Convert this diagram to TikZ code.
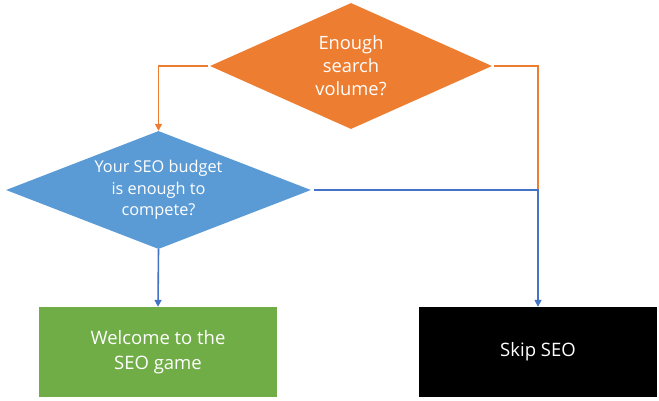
\documentclass[tikz,border=0pt]{standalone}
\usepackage{fontspec}
\setmainfont{Open Sans}
\usetikzlibrary{shapes.geometric,arrows.meta,positioning}

\definecolor{seoorange}{HTML}{ED7D31}
\definecolor{seoblue}{HTML}{5B9BD5}
\definecolor{seoline}{HTML}{4472C4}
\definecolor{seogreen}{HTML}{70AD47}

\begin{document}
\begin{tikzpicture}[
		x=1pt, y=-1pt,
		decision/.style={diamond, fill=#1, inner sep=0pt, text=white, align=center},
		result/.style={rectangle, fill=#1, minimum width=238pt, minimum height=90pt, inner sep=0pt, text=white, align=center, font=\fontsize{18.5}{25}\selectfont},
		orangearrow/.style={-{Triangle[length=7pt,width=7pt]}, seoorange, line width=1.5pt},
		bluearrow/.style={-{Triangle[length=7pt,width=7pt]}, seoline, line width=1.6pt}
		]
		\useasboundingbox (0,0) rectangle (659,400);

		% Decisions
		\node[decision=seoorange, aspect=2.24, minimum width=282pt, minimum height=126pt, font=\fontsize{18.3}{23}\selectfont] (volume) at (351,66) {Enough\\search\\volume?};
		\node[decision=seoblue, aspect=2.58, minimum width=305pt, minimum height=118pt, font=\fontsize{16.3}{21.5}\selectfont] (budget) at (158.5,190) {Your SEO budget\\is enough to\\compete?};

		% Outcomes
		\node[result=seogreen] (welcome) at (158,352) {Welcome to the\\SEO game};
		\node[result=black] (skip) at (538,352) {Skip SEO};

		\coordinate (join) at (skip.north |- budget.east);

		% Orange connectors
		\draw[orangearrow, shorten <=2pt] (volume.west) -| (budget.north);
		\draw[seoorange, line width=1.5pt, shorten <=2pt] (volume.east) -| (join);

		% Blue connectors
		\draw[bluearrow] (budget.south) -- (welcome.north);
		\draw[bluearrow, shorten <=3pt] (budget.east) -- (join) -- (skip.north);

	\end{tikzpicture}
\end{document}
